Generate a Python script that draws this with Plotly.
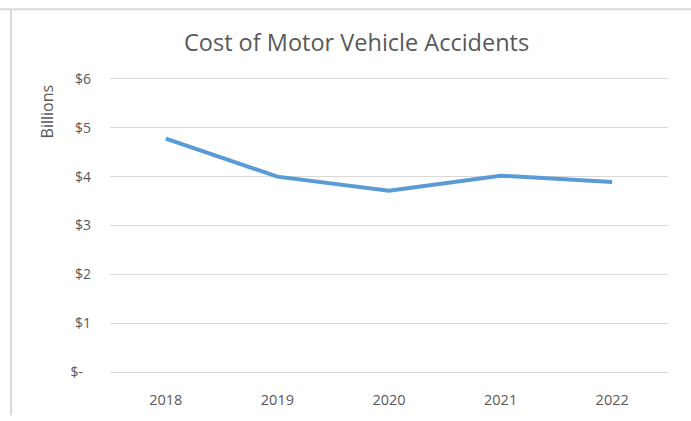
import plotly.graph_objects as go

years = ["2018", "2019", "2020", "2021", "2022"]
cost_billions = [4.78, 4.0, 3.71, 4.02, 3.89]
ytick_vals = [0, 1, 2, 3, 4, 5, 6]
ytick_text = ["$-\u2007", "$1", "$2", "$3", "$4", "$5", "$6"]

W, H = 691, 421
L, R, T, B = 110, 23, 77, 42
pw, ph = W - L - R, H - T - B

def px(x):
    return (x - L) / pw

def py(y):
    return (H - B - y) / ph

fig = go.Figure()
fig.add_trace(go.Scatter(
    x=years, y=cost_billions, mode="lines",
    line=dict(color="#5B9BD5", width=4),
    hoverinfo="x+y",
))

font = "Open Sans, Liberation Sans, sans-serif"
fig.update_layout(
    width=W, height=H,
    margin=dict(l=L, r=R, t=T, b=B),
    paper_bgcolor="white", plot_bgcolor="white",
    showlegend=False,
    font=dict(family=font, color="#595959", size=14),
    xaxis=dict(type="category", range=[-0.5, 4.5], showgrid=False, zeroline=False, showline=False,
               ticks="", tickfont=dict(size=14.5, color="#595959"), ticklabelstandoff=15),
    yaxis=dict(range=[-0.04, 6.04], tickvals=ytick_vals, ticktext=ytick_text,
               showgrid=True, gridcolor="#D9D9D9", gridwidth=1,
               zeroline=False, showline=False, ticks="",
               tickfont=dict(size=14, color="#595959"), ticklabelstandoff=18),
    annotations=[
        dict(text="Cost of Motor Vehicle Accidents", xref="paper", yref="paper",
             x=px(356), y=py(41), xanchor="center", yanchor="middle",
             showarrow=False, font=dict(size=23.5, color="#595959", family=font)),
        dict(text="Billions", xref="paper", yref="paper",
             x=px(47), y=py(112), xanchor="center", yanchor="middle", textangle=-90,
             showarrow=False, font=dict(size=16, color="#595959", family=font)),
    ],
    shapes=[
        dict(type="line", xref="paper", yref="paper", x0=px(0), x1=px(W), y0=py(8), y1=py(8),
             line=dict(color="#D9D9D9", width=2)),
        dict(type="line", xref="paper", yref="paper", x0=px(11), x1=px(11), y0=py(8), y1=py(H),
             line=dict(color="#D9D9D9", width=2)),
    ],
)
fig.write_html("out.html", config={"displayModeBar": False},
               post_script="document.body.style.margin='0';document.body.style.overflow='hidden';")
